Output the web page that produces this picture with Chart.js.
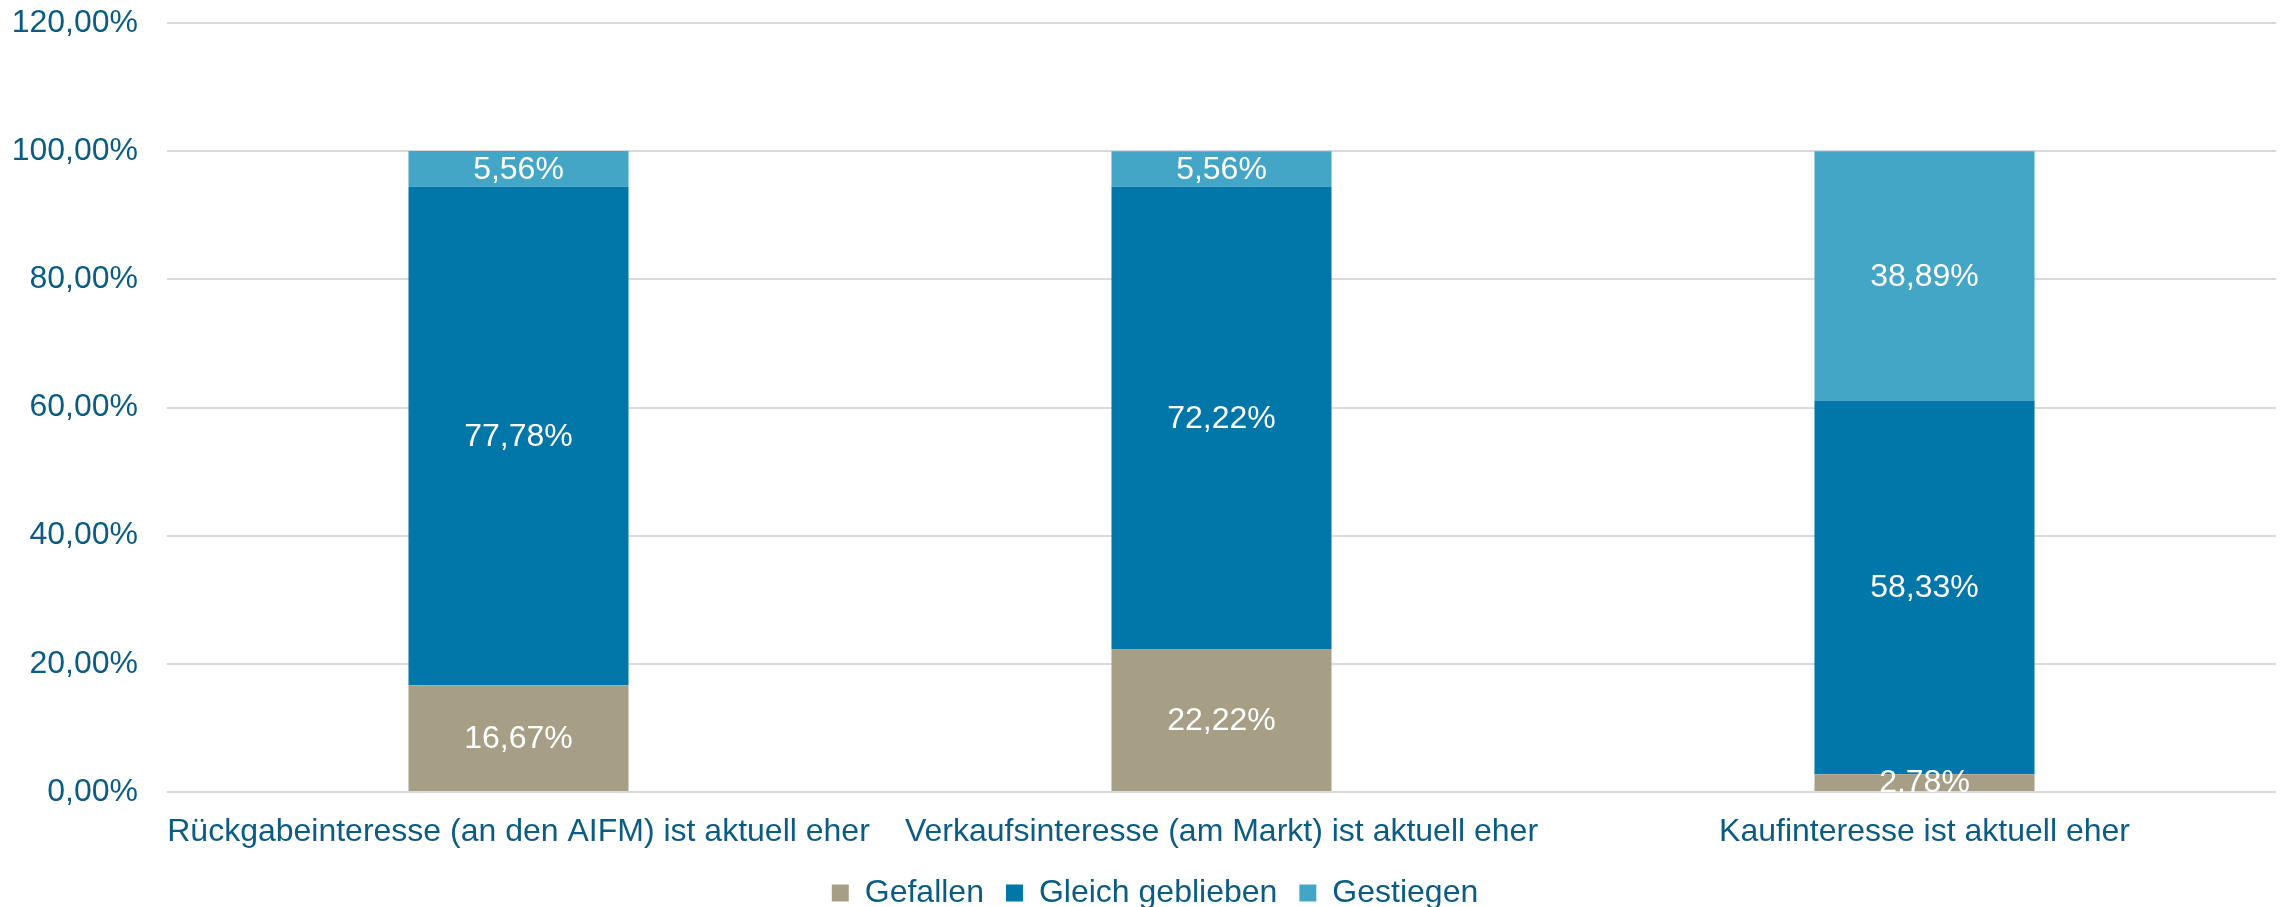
<!DOCTYPE html>
<html>
<head>
<meta charset="utf-8">
<script src="https://cdn.jsdelivr.net/npm/chart.js@4/dist/chart.umd.min.js"></script>
<style>
  html, body { margin: 0; padding: 0; background: #fff; }
  #wrap { width: 2280px; height: 907px; }
</style>
</head>
<body>
<div id="wrap"><canvas id="chart"></canvas></div>
<script>
const categories = [
  'Rückgabeinteresse (an den AIFM) ist aktuell eher',
  'Verkaufsinteresse (am Markt) ist aktuell eher',
  'Kaufinteresse ist aktuell eher'
];
const gefallen = [16.67, 22.22, 2.78];
const gleichGeblieben = [77.78, 72.22, 58.33];
const gestiegen = [5.56, 5.56, 38.89];

const TEXT_COLOR = '#0B5C84';
const FONT = 'Liberation Sans, Arial, sans-serif';

function pct(v) {
  return v.toFixed(2).replace('.', ',') + '%';
}

// white value labels centred in each segment
const segmentLabels = {
  id: 'segmentLabels',
  afterDatasetsDraw(chart) {
    const ctx = chart.ctx;
    const area = chart.chartArea;
    ctx.save();
    ctx.beginPath();
    ctx.rect(area.left, area.top, area.right - area.left, area.bottom - area.top);
    ctx.clip();
    ctx.fillStyle = '#ffffff';
    ctx.font = '32px ' + FONT;
    ctx.textAlign = 'center';
    ctx.textBaseline = 'middle';
    chart.data.datasets.forEach((ds, i) => {
      const meta = chart.getDatasetMeta(i);
      meta.data.forEach((bar, j) => {
        const y = (bar.y + bar.base) / 2;
        ctx.fillText(pct(ds.data[j]), bar.x, y + 1);
      });
    });
    ctx.restore();
  }
};

// nudge the legend a little to the right, as in the original
const legendShift = {
  id: 'legendShift',
  afterLayout(chart) {
    if (chart.legend) {
      chart.legend.left += 17;
      chart.legend.right += 17;
    }
  }
};

new Chart(document.getElementById('chart'), {
  type: 'bar',
  data: {
    labels: categories,
    datasets: [
      { label: 'Gefallen', data: gefallen, backgroundColor: '#A69F86' },
      { label: 'Gleich geblieben', data: gleichGeblieben, backgroundColor: '#0076A9' },
      { label: 'Gestiegen', data: gestiegen, backgroundColor: '#43A6C6' }
    ]
  },
  options: {
    responsive: true,
    maintainAspectRatio: false,
    animation: false,
    layout: { padding: { top: 23, right: 4, left: 0, bottom: -12 } },
    datasets: { bar: { categoryPercentage: 1, barPercentage: 0.313 } },
    plugins: {
      tooltip: { enabled: false },
      legend: {
        position: 'bottom',
        labels: {
          boxWidth: 17,
          boxHeight: 17,
          padding: 22,
          color: TEXT_COLOR,
          font: { family: FONT, size: 32, lineHeight: 1 }
        }
      }
    },
    scales: {
      x: {
        stacked: true,
        grid: { display: false, drawTicks: false },
        border: { display: false },
        ticks: {
          color: TEXT_COLOR,
          padding: 24,
          maxRotation: 0,
          autoSkip: false,
          font: { family: FONT, size: 32, lineHeight: 1 }
        },
        afterFit: s => { s.height = 63; }
      },
      y: {
        stacked: true,
        min: 0,
        max: 120,
        grid: { color: '#D9D9D9', lineWidth: 2, tickLength: 29, tickColor: 'transparent' },
        border: { display: false },
        ticks: {
          stepSize: 20,
          color: TEXT_COLOR,
          padding: 0,
          font: { family: FONT, size: 32 },
          callback: v => pct(v)
        },
        afterFit: s => { s.width = 167; }
      }
    }
  },
  plugins: [segmentLabels, legendShift]
});
</script>
</body>
</html>
